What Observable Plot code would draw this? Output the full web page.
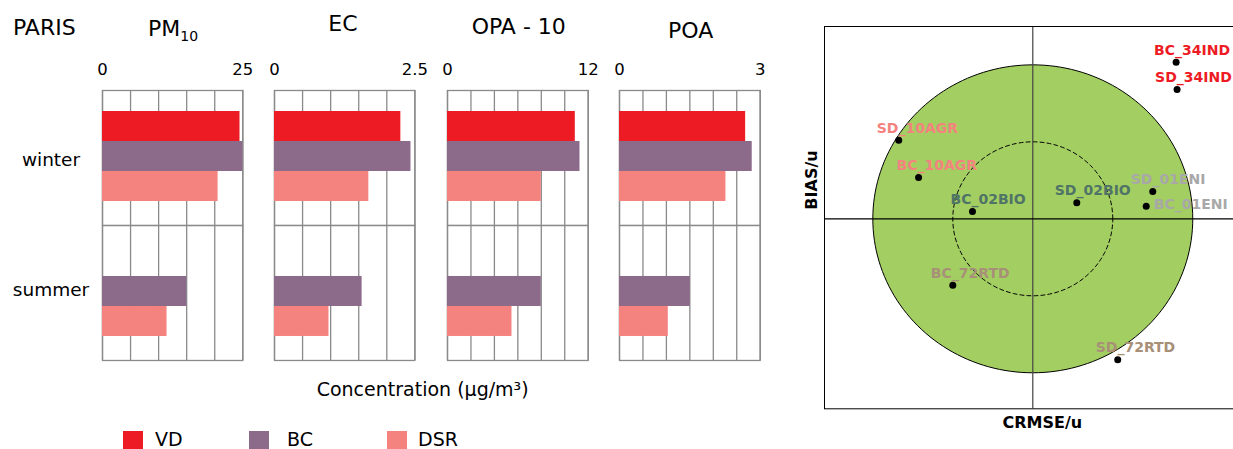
<!DOCTYPE html>
<html>
<head>
<meta charset="utf-8">
<script src="https://cdn.jsdelivr.net/npm/d3@7"></script>
<script src="https://cdn.jsdelivr.net/npm/@observablehq/plot@0.6"></script>
<style>
  html, body { margin: 0; padding: 0; overflow: hidden; background: #fff; }
  #root { position: relative; width: 1233px; height: 449px; overflow: hidden; font-family: "DejaVu Sans", Verdana, sans-serif; color: #000; }
  .abs { position: absolute; white-space: nowrap; line-height: 1; }
  .abs svg { overflow: visible; max-width: none !important; }
  .sw { position: absolute; width: 20px; height: 20px; }
</style>
</head>
<body>
<div id="root"></div>
<script>
// ---------------- data ----------------
const seasons = ["winter", "summer"];
const series = ["VD", "BC", "DSR"];
const seriesColors = ["#ed1c24", "#8c6a8a", "#f4837f"];

const pm10Winter = [24.5, 25.0, 20.6];
const pm10Summer = [null, 15.0, 11.5];
const pm10Grid = [0, 5, 10, 15, 20, 25];

const ecWinter = [2.25, 2.43, 1.68];
const ecSummer = [null, 1.56, 0.97];
const ecGrid = [0, 0.5, 1, 1.5, 2, 2.5];

const opaWinter = [10.9, 11.3, 8.0];
const opaSummer = [null, 8.0, 5.5];
const opaGrid = [0, 2, 4, 6, 8, 10, 12];

const poaWinter = [2.69, 2.83, 2.27];
const poaSummer = [null, 1.51, 1.04];
const poaGrid = [0, 0.5, 1, 1.5, 2, 2.5, 3];

// target plot
const targetNames = ["BC_34IND", "SD_34IND", "SD_10AGR", "BC_10AGR", "BC_02BIO", "SD_02BIO", "SD_01ENI", "BC_01ENI", "BC_72RTD", "SD_72RTD"];
const targetCRMSE = [0.896, 0.902, -0.838, -0.714, -0.377, 0.275, 0.750, 0.709, -0.500, 0.531];
const targetBIAS  = [1.017, 0.840, 0.510, 0.268, 0.047, 0.104, 0.177, 0.082, -0.431, -0.916];
const targetSite  = ["34IND", "34IND", "10AGR", "10AGR", "02BIO", "02BIO", "01ENI", "01ENI", "72RTD", "72RTD"];
const siteColors = { "34IND": "#ed1c24", "10AGR": "#f4837f", "02BIO": "#4f7467", "01ENI": "#a8a8a8", "72RTD": "#a88f78" };
const labelRight = ["BC_01ENI"];

// ---------------- helpers ----------------
const root = document.getElementById("root");
const FONT = "DejaVu Sans";
function addText(html, left, baseline, fs, extra = "") {
  const d = document.createElement("div");
  d.className = "abs";
  d.style.cssText = `left:${left}px;top:${baseline - 0.846 * fs}px;font-size:${fs}px;${extra}`;
  d.innerHTML = html;
  root.appendChild(d);
  return d;
}
function addCentered(text, cx, baseline, fs) {
  const d = addText(text, 0, baseline, fs);
  d.style.left = (cx - 100) + "px";
  d.style.width = "200px";
  d.style.textAlign = "center";
}

// ---------------- bar panels ----------------
const panels = [
  { x0: 101.7, w: 140.3, max: 25, grid: pm10Grid, winter: pm10Winter, summer: pm10Summer },
  { x0: 274.3, w: 140.4, max: 2.5, grid: ecGrid, winter: ecWinter, summer: ecSummer },
  { x0: 447.3, w: 140.7, max: 12, grid: opaGrid, winter: opaWinter, summer: opaSummer },
  { x0: 619.3, w: 140.7, max: 3, grid: poaGrid, winter: poaWinter, summer: poaSummer }
];

for (const p of panels) {
  const rows = [];
  seasons.forEach(s => {
    const vals = s === "winter" ? p.winter : p.summer;
    series.forEach((k, i) => rows.push({ season: s, series: k, value: vals[i] }));
  });
  const ml = 10, mr = 16;
  const chart = Plot.plot({
    width: p.w + ml + mr,
    height: 380,
    marginLeft: ml, marginRight: mr, marginTop: 89, marginBottom: 20,
    style: { fontFamily: FONT, fontSize: "16.5px", color: "#000", background: "transparent" },
    x: { domain: [0, p.max], axis: "top", ticks: [0, p.max], tickSize: 0, tickPadding: 15, label: null, tickFormat: d => String(d) },
    y: { domain: series, axis: null, paddingInner: 0, paddingOuter: 0.685, align: 0.46 },
    fy: { domain: seasons, axis: null, padding: 0 },
    color: { domain: series, range: seriesColors },
    marks: [
      Plot.ruleX(p.grid, { stroke: "#8a8a8a", strokeWidth: 1.3, strokeOpacity: 1 }),
      Plot.frame({ stroke: "#8a8a8a", strokeWidth: 1.3 }),
      Plot.barX(rows, { x: "value", y: "series", fy: "season", fill: "series" })
    ]
  });
  const wrap = document.createElement("div");
  wrap.className = "abs";
  wrap.style.left = (p.x0 - ml) + "px";
  wrap.style.top = "0px";
  wrap.appendChild(chart);
  root.appendChild(wrap);
}

// titles
addText("PARIS", 13, 35.7, 22);
addText('PM<span style="font-size:14px;position:relative;top:5px">10</span>', 148, 36.7, 22);
addText("EC", 328.3, 31.7, 22);
addText("OPA - 10", 471.7, 35, 22);
addText("POA", 668, 39, 22);
addCentered("winter", 51, 166.7, 18.5);
addCentered("summer", 51, 296.7, 18.5);
addText("Concentration (µg/m³)", 316.7, 396.5, 19);

// legend
const legX = [123, 249, 387];
const legTextX = [155, 287, 418];
series.forEach((s, i) => {
  const sw = document.createElement("div");
  sw.className = "sw";
  sw.style.left = legX[i] + "px";
  sw.style.top = "431px";
  sw.style.background = seriesColors[i];
  root.appendChild(sw);
  addText(s, legTextX[i], 446.5, 19);
});

// ---------------- target plot ----------------
const pts = targetNames.map((n, i) => ({ name: n, x: targetCRMSE[i], y: targetBIAS[i], site: targetSite[i] }));
const outerR = 1, innerR = 0.5;
const ring = r => d3.range(0, 360, 2).map(a => ({ x: r * Math.cos(a * Math.PI / 180), y: r * Math.sin(a * Math.PI / 180) }));

const target = Plot.plot({
  width: 520, height: 449,
  marginLeft: 34, marginRight: 20, marginTop: 26, marginBottom: 40.7,
  style: { fontFamily: FONT, color: "#000", background: "transparent" },
  x: { domain: [-1.302, 1.611], axis: null },
  y: { domain: [-1.234, 1.249], axis: null },
  marks: [
    Plot.line(ring(outerR), { x: "x", y: "y", curve: "linear-closed", fill: "#a3ce62", stroke: "#000", strokeWidth: 1 }),
    Plot.line(ring(innerR), { x: "x", y: "y", curve: "linear-closed", fill: "none", stroke: "#000", strokeWidth: 1, strokeDasharray: "4,3" }),
    Plot.ruleX([0], { stroke: "#444", strokeWidth: 1.2 }),
    Plot.ruleY([0], { stroke: "#000", strokeWidth: 1.2 }),
    Plot.frame({ stroke: "#000", strokeWidth: 1 }),
    Plot.dot(pts, { x: "x", y: "y", r: 3.5, fill: "#000", stroke: null }),
    Plot.text(pts.filter(d => !labelRight.includes(d.name)), {
      x: "x", y: "y", text: "name", fill: d => siteColors[d.site],
      dx: -22, dy: -12, textAnchor: "start", fontWeight: "bold", fontSize: 14
    }),
    Plot.text(pts.filter(d => labelRight.includes(d.name)), {
      x: "x", y: "y", text: "name", fill: d => siteColors[d.site],
      dx: 7.5, dy: -1.5, textAnchor: "start", fontWeight: "bold", fontSize: 14
    }),
    Plot.text(["BIAS/u"], { frameAnchor: "left", dx: -12.5, dy: -8, rotate: -90, fontWeight: "bold", fontSize: 16, fill: "#000" }),
    Plot.text(["CRMSE/u"], { x: () => 0.06, frameAnchor: "bottom", dy: 19, fontWeight: "bold", fontSize: 16, fill: "#000" })
  ]
});
const tw = document.createElement("div");
tw.className = "abs";
tw.style.left = "790px";
tw.style.top = "0px";
tw.style.width = "520px";
tw.appendChild(target);
root.appendChild(tw);
</script>
</body>
</html>
